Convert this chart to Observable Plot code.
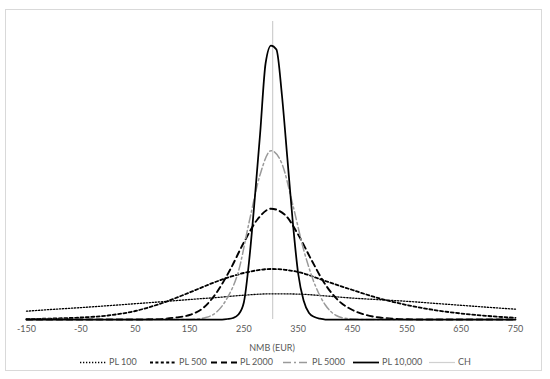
<!DOCTYPE html>
<html>
<head>
<meta charset="utf-8">
<script src="https://cdn.jsdelivr.net/npm/d3@7"></script>
<script src="https://cdn.jsdelivr.net/npm/@observablehq/plot@0.6"></script>
<style>
  body { margin: 0; background: #fff; }
  #wrap { position: relative; width: 550px; height: 379px; font-family: Lato, "Open Sans", sans-serif; color: #595959; overflow: hidden; }
  #frame { position: absolute; left: 5px; top: 9px; width: 537px; height: 362px; border: 1px solid #d9d9d9; box-sizing: border-box; }
  #chart { position: absolute; left: 0; top: 0; }
  #xlabel { position: absolute; left: 222px; width: 100px; top: 342px; text-align: center; font-size: 9px; line-height: 12px; }
  .leg { position: absolute; top: 356px; height: 12px; font-size: 9px; line-height: 12px; white-space: nowrap; }
  .leg svg { position: absolute; left: 0; top: 0; }
  .leg span { position: absolute; left: 29px; top: 0; }
</style>
</head>
<body>
<div id="wrap">
  <div id="frame"></div>
  <div id="chart"></div>
  <div id="xlabel">NMB (EUR)</div>
  <div id="legend"></div>
</div>
<script>
// x positions (EUR) and curve heights
const xTicks = [-150, -50, 50, 150, 250, 350, 450, 550, 650, 750];
const chValue = 303;

const xWide = [-150, -100, -50, 0, 50, 100, 150, 200, 250, 300, 350, 400, 450, 500, 550, 600, 650, 700, 750];
const pl100 = [8.3, 10.2, 11.9, 13.8, 15.8, 17.8, 20.0, 22.0, 24.3, 25.7, 25.4, 23.6, 21.4, 19.8, 18.2, 16.2, 14.2, 12.2, 10.3];
const pl500 = [0.5, 1.0, 2.0, 4.0, 8.5, 16.5, 27, 38, 46.5, 50.5, 47.5, 38.5, 29.5, 21, 14.5, 9.5, 6, 3.5, 1.7];

const x2000 = [-150, 50, 75, 100, 125, 150, 175, 200, 225, 250, 275, 300, 325, 350, 375, 400, 425, 450, 475, 500, 525, 550, 575, 750];
const pl2000 = [0, 0, 0.2, 0.6, 2.0, 4.5, 11.5, 27, 50, 77, 100, 110.8, 105, 85, 59, 35, 18.5, 9.5, 4.5, 2, 0.8, 0.3, 0, 0];

const x5000 = [-150, 140, 160, 180, 200, 220, 240, 260, 280, 300, 320, 340, 360, 380, 400, 420, 440, 460, 480, 750];
const pl5000 = [0, 0, 0.4, 2.0, 7.5, 22, 48, 98, 145, 168.8, 156, 115, 70, 36, 14.5, 4, 1, 0.2, 0, 0];

const x10000 = [-150, 210, 220, 230, 240, 250, 260, 270, 280, 290, 300, 310, 320, 330, 340, 350, 360, 370, 380, 390, 400, 750];
const pl10000 = [0, 0, 0.5, 1.5, 5, 17, 60, 120, 186, 256, 274, 270, 225, 162, 98, 46, 19, 6.5, 2.5, 0.8, 0, 0];

const yTop = 298;

const seriesDefs = [
  {name: "PL 100", xs: xWide, ys: pl100, stroke: "#000", width: 1.3, dash: "1.3 1.7"},
  {name: "PL 500", xs: xWide, ys: pl500, stroke: "#000", width: 1.8, dash: "3 2.4"},
  {name: "PL 2000", xs: x2000, ys: pl2000, stroke: "#000", width: 1.9, dash: "6 4"},
  {name: "PL 5000", xs: x5000, ys: pl5000, stroke: "#9a9a9a", width: 1.5, dash: "8 3 2 3"},
  {name: "PL 10,000", xs: x10000, ys: pl10000, stroke: "#000", width: 1.75, dash: null}
];

const marks = [
  Plot.ruleX([chValue], {y1: 0, y2: yTop, stroke: "#d0d0d0", strokeWidth: 1.25})
];
for (const s of seriesDefs) {
  const data = s.xs.map((x, i) => ({x, y: s.ys[i]}));
  const opts = {x: "x", y: "y", stroke: s.stroke, strokeWidth: s.width, curve: "monotone-x"};
  if (s.dash) opts.strokeDasharray = s.dash;
  marks.push(Plot.line(data, opts));
}

const chart = Plot.plot({
  width: 550,
  height: 340,
  marginLeft: 26,
  marginRight: 35,
  marginTop: 21,
  marginBottom: 21,
  style: {fontFamily: "Lato, 'Open Sans', sans-serif", fontSize: "9px", color: "#595959", background: "transparent"},
  x: {domain: [-150, 750], ticks: xTicks, tickSize: 0, tickPadding: 6, tickFormat: d => String(d), label: null},
  y: {domain: [0, yTop], axis: null},
  marks
});
document.getElementById("chart").appendChild(chart);

// legend
const legendItems = [
  {text: 109, def: seriesDefs[0]},
  {text: 179, def: seriesDefs[1]},
  {text: 240, def: seriesDefs[2]},
  {text: 312, def: seriesDefs[3]},
  {text: 382, def: seriesDefs[4]},
  {text: 458, def: {name: "CH", stroke: "#d0d0d0", width: 1.25, dash: null}}
];
const legend = document.getElementById("legend");
for (const it of legendItems) {
  const d = it.def;
  const div = document.createElement("div");
  div.className = "leg";
  div.style.left = (it.text - 29) + "px";
  div.innerHTML = `<svg width="26" height="12"><line x1="0" x2="26" y1="6.5" y2="6.5" stroke="${d.stroke}" stroke-width="${d.width}" ${d.dash ? `stroke-dasharray="${d.dash}"` : ""}/></svg><span>${d.name}</span>`;
  legend.appendChild(div);
}
</script>
</body>
</html>
